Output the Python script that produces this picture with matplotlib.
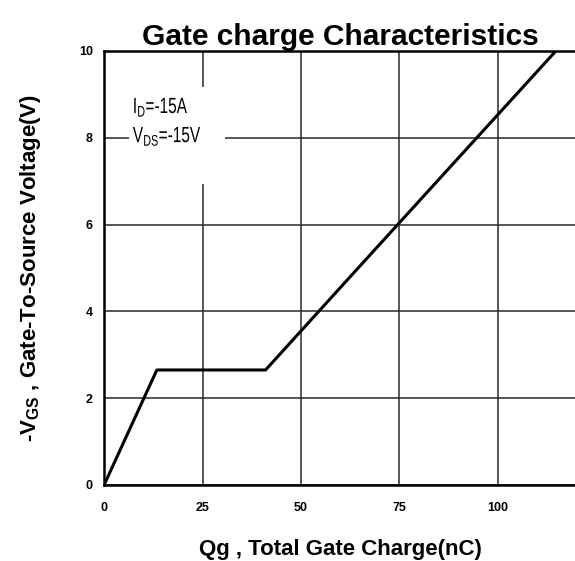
import matplotlib
matplotlib.use('Agg')
import matplotlib.pyplot as plt
from matplotlib.font_manager import FontProperties
from matplotlib.patches import Rectangle, PathPatch
from matplotlib.textpath import TextPath
from matplotlib.transforms import Affine2D, ScaledTranslation

# Gate charge curve
qg = [0, 13.4, 41.0, 63.0, 114.7]
vgs = [0, 2.65, 2.65, 4.85, 10.0]

x_ticks = [0, 25, 50, 75, 100]
y_ticks = [0, 2, 4, 6, 8, 10]

note_lines = [r'I$_{\mathrm{D}}$=-15A', r'V$_{\mathrm{DS}}$=-15V']
note_y = [8.57, 7.9]

plt.rcParams['font.family'] = ['Liberation Sans', 'DejaVu Sans']
plt.rcParams['mathtext.fontset'] = 'custom'
plt.rcParams['mathtext.rm'] = 'Liberation Sans'
plt.rcParams['mathtext.bf'] = 'Liberation Sans:bold'

fig = plt.figure(figsize=(5.75, 5.61), dpi=100)
ax = fig.add_axes([0.181, 0.1355, 0.822, 0.7736])

ax.plot(qg, vgs, color='black', linewidth=2.2, zorder=3)

ax.set_xlim(0, 120)
ax.set_ylim(0, 10)
ax.set_xticks(x_ticks)
ax.set_yticks(y_ticks)
ax.tick_params(length=0, labelsize=9)
ax.tick_params(axis='x', pad=12)
ax.tick_params(axis='y', pad=8)
for lab in ax.get_xticklabels() + ax.get_yticklabels():
    lab.set_fontweight('bold')

ax.grid(True, color='#2a2a2a', linewidth=1.1)
ax.set_axisbelow(True)
for side in ['left', 'bottom', 'top']:
    ax.spines[side].set_linewidth(1.8)
ax.spines['right'].set_visible(False)

ax.set_title('Gate charge Characteristics', fontsize=21.5, fontweight='bold', pad=3)
ax.set_xlabel('Qg , Total Gate Charge(nC)', fontsize=16, fontweight='bold', labelpad=18)
ax.set_ylabel(r'-V$_{\mathbf{GS}}$ , Gate-To-Source Voltage(V)', fontsize=16,
              fontweight='bold', labelpad=26)

# white box behind the note, cutting the grid
ax.add_patch(Rectangle((6.3, 6.94), 24.4, 2.23, facecolor='white',
                       edgecolor='none', zorder=2))

# the note is set in a condensed face: squeeze the glyph outlines sideways
prop = FontProperties(family='Liberation Sans')
for s, y in zip(note_lines, note_y):
    tp = TextPath((0, 0), s, size=22, prop=prop)
    tr = Affine2D().scale(0.70, 1.0) + ScaledTranslation(7.3, y, ax.transData)
    ax.add_patch(PathPatch(tp, transform=tr, facecolor='black',
                           edgecolor='none', zorder=4))

fig.savefig('out.png', dpi=100)
